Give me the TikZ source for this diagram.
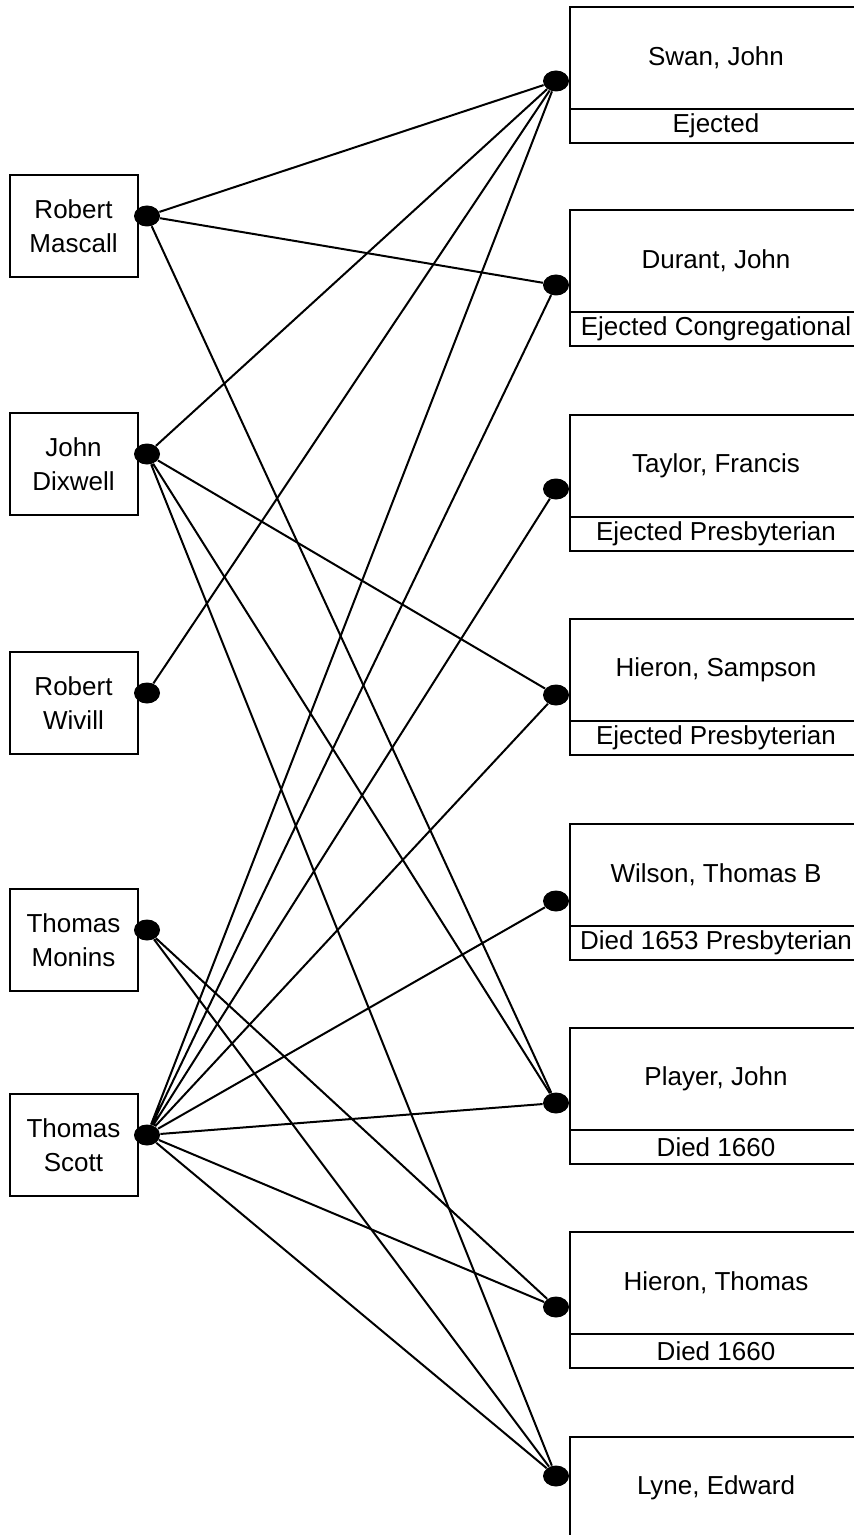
\documentclass[tikz,border=0pt]{standalone}
\usepackage{fontspec}
\setmainfont{Liberation Sans}
\usetikzlibrary{positioning,shapes.geometric}

\begin{document}
\begin{tikzpicture}[x=0.5pt,y=-0.5pt,
		font=\fontsize{13}{17}\selectfont,
		person/.style={draw,line width=1pt,minimum width=64pt,minimum height=51pt,align=center,inner sep=0pt},
		minister/.style={draw,line width=1pt,minimum width=146pt,minimum height=51pt,inner sep=0pt,outer sep=0pt},
		fate/.style={draw,line width=1pt,minimum width=146pt,minimum height=17pt,inner sep=0pt,outer sep=0pt},
		dot/.style={ellipse,fill=black,minimum width=13pt,minimum height=10.5pt,inner sep=0pt},
		link/.style={line width=1pt}]
		\useasboundingbox (0,0) rectangle (854,1535);
		\node[person] at (73.5,226) (l1) {Robert\\Mascall};
		\node[person] at (73.5,464) (l2) {John\\Dixwell};
		\node[person] at (73.5,703) (l3) {Robert\\Wivill};
		\node[person] at (73.5,940) (l4) {Thomas\\Monins};
		\node[person] at (73.5,1145) (l5) {Thomas\\Scott};
		%
		\node[minister] at (716,58) (r1) {Swan, John};
		\node[fate,below=0pt of r1] (f1) {Ejected};
		\node[minister] at (716,261) (r2) {Durant, John};
		\node[fate,below=0pt of r2] (f2) {Ejected Congregational};
		\node[minister] at (716,466) (r3) {Taylor, Francis};
		\node[fate,below=0pt of r3] (f3) {Ejected Presbyterian};
		\node[minister] at (716,670) (r4) {Hieron, Sampson};
		\node[fate,below=0pt of r4] (f4) {Ejected Presbyterian};
		\node[minister] at (716,875) (r5) {Wilson, Thomas B};
		\node[fate,below=0pt of r5] (f5) {Died 1653 Presbyterian};
		\node[minister] at (716,1079) (r6) {Player, John};
		\node[fate,below=0pt of r6] (f6) {Died 1660};
		\node[minister] at (716,1283) (r7) {Hieron, Thomas};
		\node[fate,below=0pt of r7] (f7) {Died 1660};
		\node[minister] at (716,1488) (r8) {Lyne, Edward};
		%
		\node[dot] at (147,216) (y1) {};
		\node[dot] at (147,454) (y2) {};
		\node[dot] at (147,693) (y3) {};
		\node[dot] at (147,930) (y4) {};
		\node[dot] at (147,1135) (y5) {};
		\node[dot] at (556,81) (z1) {};
		\node[dot] at (556,285) (z2) {};
		\node[dot] at (556,489) (z3) {};
		\node[dot] at (556,695) (z4) {};
		\node[dot] at (556,901) (z5) {};
		\node[dot] at (556,1103) (z6) {};
		\node[dot] at (556,1307) (z7) {};
		\node[dot] at (556,1476) (z8) {};
		%
		\draw[link] (y1) -- (z1) (y1) -- (z2) (y1) -- (z6);
		\draw[link] (y2) -- (z1) (y2) -- (z4) (y2) -- (z6) (y2) -- (z8);
		\draw[link] (y3) -- (z1);
		\draw[link] (y4) -- (z7) (y4) -- (z8);
		\draw[link] (y5) -- (z1) (y5) -- (z2) (y5) -- (z3) (y5) -- (z4)
			(y5) -- (z5) (y5) -- (z6) (y5) -- (z7) (y5) -- (z8);
	\end{tikzpicture}
\end{document}
